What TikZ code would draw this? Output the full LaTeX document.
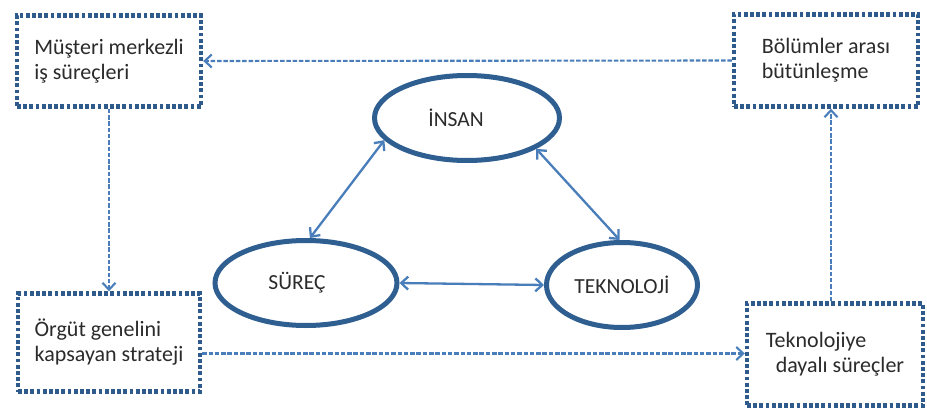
\documentclass[tikz,border=0pt]{standalone}
\usepackage{fontspec}
\setmainfont{Carlito}
\usetikzlibrary{shapes.geometric,arrows.meta}
\definecolor{boxblue}{HTML}{2F5B8C}
\definecolor{ringblue}{HTML}{2F5E91}
\definecolor{linkblue}{HTML}{4A7EBB}
\definecolor{inkgrey}{HTML}{2B2B2B}
\tikzset{
  dotbox/.style={draw=boxblue, line width=4.4pt, dash pattern=on 3.8pt off 2.4pt,
    rectangle, align=left, text=inkgrey, font=\fontsize{22}{25}\selectfont},
  ring/.style={draw=ringblue, line width=5pt, ellipse, text=inkgrey,
    font=\fontsize{21.5}{24}\selectfont, inner sep=0pt},
  link/.style={draw=linkblue, line width=2.3pt, {Straight Barb[length=7pt,width=13pt]}-{Straight Barb[length=7pt,width=13pt]}},
  flow/.style={draw=linkblue, line width=2.1pt, dash pattern=on 4.5pt off 1.8pt, -{Straight Barb[length=7pt,width=13pt]}}
}
\begin{document}
\begin{tikzpicture}[x=1pt,y=-1pt]
\useasboundingbox[fill=white] (0,0) rectangle (927,415);

% four outer boxes
\node[dotbox, minimum width=184pt, minimum height=91pt] (tlbox) at (109,61)
  {Müşteri merkezli\\iş süreçleri};
\node[dotbox, minimum width=184pt, minimum height=92pt] (trbox) at (826,60.5)
  {Bölümler arası\\bütünleşme};
\node[dotbox, minimum width=182pt, minimum height=98pt] (blbox) at (109,342.5)
  {Örgüt genelini\\kapsayan strateji};
\node[dotbox, minimum width=176pt, minimum height=102pt] (brbox) at (835,354.5)
  {Teknolojiye\\\hspace*{0.45em}dayalı süreçler};

% three core elements
\node[ring, minimum width=185pt, minimum height=85pt] (insan) at (467,118) {\hspace*{-22pt}İNSAN};
\node[ring, minimum width=182pt, minimum height=85pt] (surec) at (306,283) {\hspace*{-18pt}SÜREÇ};
\node[ring, minimum width=151pt, minimum height=85pt] (tek) at (622,285) {TEKNOLOJİ};

% two-way links between the core elements
\draw[link] (surec.85) -- (insan.195);
\draw[link] (insan.-24) -- (tek.93);
\draw[link] (surec.east) -- (tek.west);

% cycle between the outer boxes
\coordinate (bl-out) at ([yshift=-11pt]blbox.east);
\coordinate (br-out) at ([xshift=-4pt]brbox.north);
\draw[flow] (trbox.west) -- (tlbox.east);
\draw[flow] (tlbox.south) -- (blbox.north);
\draw[flow] (bl-out) -- (bl-out -| brbox.west);
\draw[flow] (br-out) -- (br-out |- trbox.south);
\end{tikzpicture}
\end{document}
